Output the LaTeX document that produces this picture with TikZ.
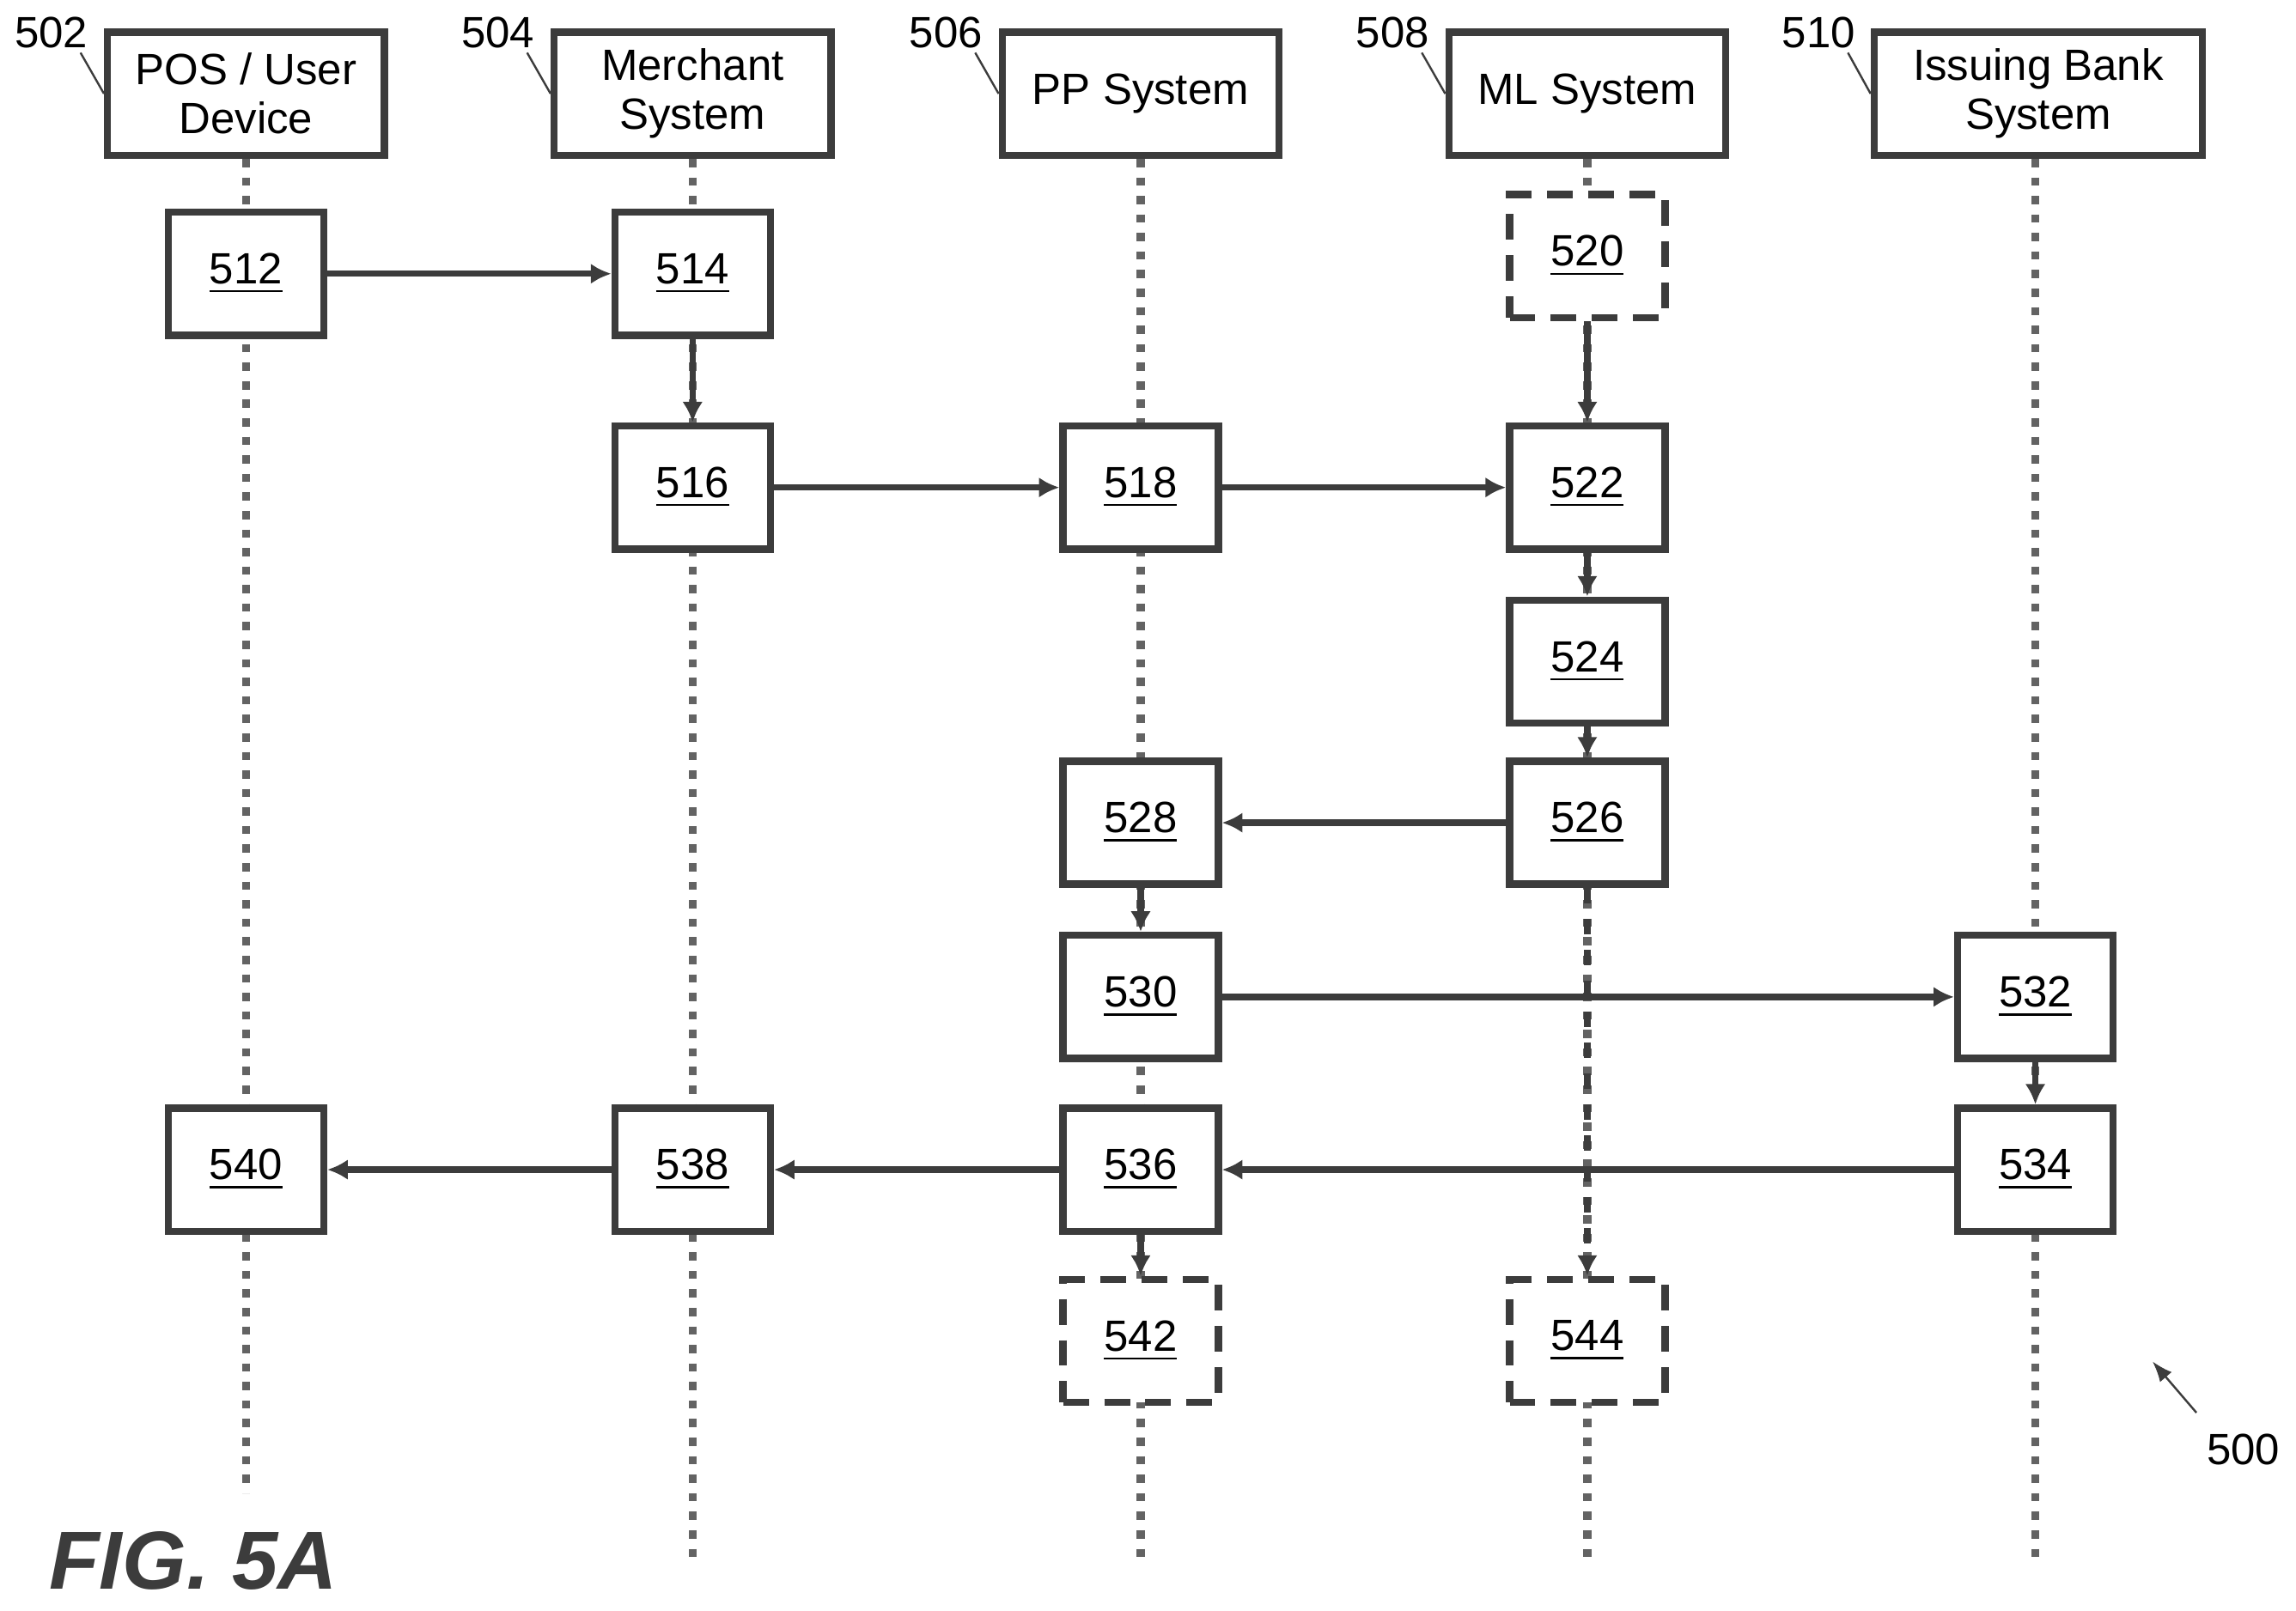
\documentclass[tikz,border=0pt]{standalone}
\usepackage{fontspec}
\setmainfont{Liberation Sans}
\usetikzlibrary{arrows.meta}
\definecolor{ink}{RGB}{60,60,60}
\tikzset{
  hd/.style={draw=ink,line width=1.4pt,minimum width=1.89cm,minimum height=0.84cm,align=center,font=\fontsize{8.5}{9.5}\selectfont,inner sep=1pt},
  st/.style={draw=ink,line width=1.4pt,fill=white,minimum width=1.06cm,minimum height=0.84cm,font=\fontsize{8.5}{9}\selectfont},
  opt/.style={st,dashed,dash pattern=on 5pt off 3pt},
  life/.style={ink!80,line width=1.6pt,dotted},
  msg/.style={ink,line width=1.2pt,-{Latex[length=1.4mm,width=1.4mm]}},
  lbl/.style={font=\fontsize{8.5}{9}\selectfont},
}
\newcommand{\ul}[1]{\underline{#1}}
\begin{document}
\begin{tikzpicture}[x=0.01cm,y=-0.01cm]
  \useasboundingbox (0,0) rectangle (1568,1100);
  % actors
  \node[hd] (pos) at (168,64) {POS / User\\Device};
  \node[hd] (mer) at (473,64) {Merchant\\System};
  \node[hd] (pps) at (779,64) {PP System};
  \node[hd] (mls) at (1084,64) {ML System};
  \node[hd,minimum width=2.24cm] (isb) at (1392,64) {Issuing Bank\\System};
  % reference numerals
  \node[lbl] (n502) at (35,22) {502};
  \node[lbl] (n504) at (340,22) {504};
  \node[lbl] (n506) at (646,22) {506};
  \node[lbl] (n508) at (951,22) {508};
  \node[lbl] (n510) at (1242,22) {510};
  \draw[ink,thin] (55,36) -- (pos.west);
  \draw[ink,thin] (360,36) -- (mer.west);
  \draw[ink,thin] (666,36) -- (pps.west);
  \draw[ink,thin] (971,36) -- (mls.west);
  \draw[ink,thin] (1262,36) -- (isb.west);
  % lifelines
  \coordinate (endA) at (168,1020);
  \coordinate (endB) at (473,1070);
  \coordinate (endC) at (779,1070);
  \coordinate (endD) at (1084,1070);
  \coordinate (endE) at (1390,1070);
  \draw[life] (pos.south) -- (endA);
  \draw[life] (mer.south) -- (endB);
  \draw[life] (pps.south) -- (endC);
  \draw[life] (mls.south) -- (endD);
  \draw[life] (isb.south-|endE) -- (endE);
  % steps
  \node[st] (s512) at (168,187) {\ul{512}};
  \node[st] (s514) at (473,187) {\ul{514}};
  \node[opt] (s520) at (1084,175) {\ul{520}};
  \node[st] (s516) at (473,333) {\ul{516}};
  \node[st] (s518) at (779,333) {\ul{518}};
  \node[st] (s522) at (1084,333) {\ul{522}};
  \node[st] (s524) at (1084,452) {\ul{524}};
  \node[st] (s528) at (779,562) {\ul{528}};
  \node[st] (s526) at (1084,562) {\ul{526}};
  \node[st] (s530) at (779,681) {\ul{530}};
  \node[st] (s532) at (1390,681) {\ul{532}};
  \node[st] (s540) at (168,799) {\ul{540}};
  \node[st] (s538) at (473,799) {\ul{538}};
  \node[st] (s536) at (779,799) {\ul{536}};
  \node[st] (s534) at (1390,799) {\ul{534}};
  \node[opt] (s542) at (779,916) {\ul{542}};
  \node[opt] (s544) at (1084,916) {\ul{544}};
  % messages
  \draw[msg,dashed] (s526) -- (s544);
  \draw[msg] (s512) -- (s514);
  \draw[msg] (s514) -- (s516);
  \draw[msg] (s516) -- (s518);
  \draw[msg] (s518) -- (s522);
  \draw[msg] (s520) -- (s522);
  \draw[msg] (s522) -- (s524);
  \draw[msg] (s524) -- (s526);
  \draw[msg] (s526) -- (s528);
  \draw[msg] (s528) -- (s530);
  \draw[msg] (s530) -- (s532);
  \draw[msg] (s532) -- (s534);
  \draw[msg] (s534) -- (s536);
  \draw[msg] (s536) -- (s538);
  \draw[msg] (s538) -- (s540);
  \draw[msg] (s536) -- (s542);
  % figure tag
  \node[lbl] (n500) at (1532,990) {500};
  \coordinate (tip500) at (1470,930);
  \draw[ink,thin,-{Latex[length=1.4mm]}] (1500,965) -- (tip500);
  \node[font=\fontsize{16}{18}\selectfont\bfseries\itshape,text=ink] (fig) at (132,1066) {FIG. 5A};
\end{tikzpicture}
\end{document}
